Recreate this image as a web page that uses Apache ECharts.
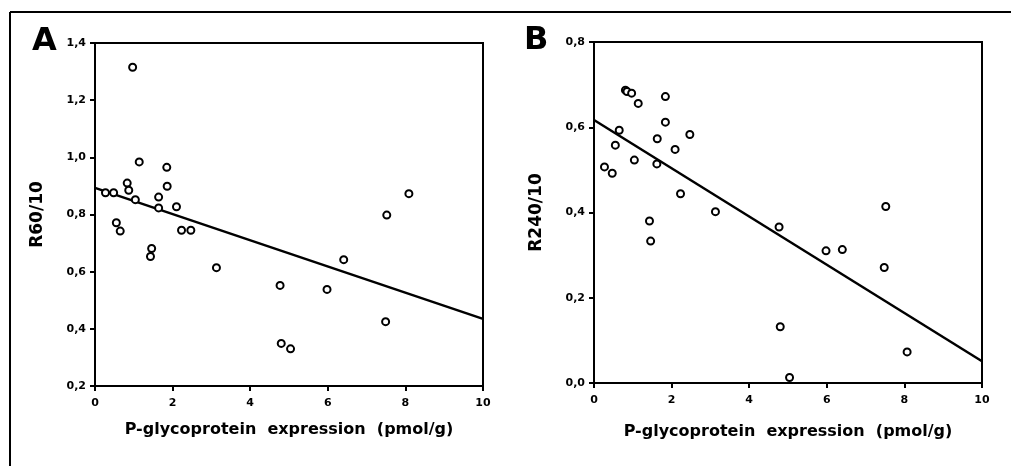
<!DOCTYPE html>
<html>
<head>
<meta charset="utf-8">
<script src="https://cdn.jsdelivr.net/npm/echarts@6/dist/echarts.min.js"></script>
<style>
html,body{margin:0;padding:0;background:#fff;}
#c{width:1011px;height:466px;}
</style>
</head>
<body>
<div id="c"></div>
<script>
// P-glycoprotein expression (pmol/g), panel A
const pgpX = [0.27,0.48,0.55,0.65,0.83,0.87,0.97,1.04,1.14,1.46,1.43,1.64,1.64,1.85,1.86,2.10,2.23,2.47,3.13,4.77,4.80,5.04,5.98,6.41,7.52,7.49,8.09];
// Panel A: R60/10
const r60 = [0.876,0.876,0.771,0.742,0.910,0.885,1.315,0.852,0.984,0.681,0.653,0.861,0.823,0.965,0.899,0.827,0.745,0.745,0.614,0.552,0.349,0.330,0.538,0.642,0.798,0.425,0.873];
// P-glycoprotein expression (pmol/g), panel B
const pgpXB = [0.27,0.47,0.55,0.65,0.81,0.85,0.97,1.04,1.14,1.43,1.46,1.63,1.62,1.84,1.84,2.09,2.23,2.47,3.13,4.77,4.80,5.04,5.98,6.40,7.52,7.48,8.07];
// Panel B: R240/10
const r240 = [0.507,0.492,0.558,0.593,0.687,0.684,0.680,0.523,0.656,0.380,0.333,0.573,0.514,0.672,0.612,0.548,0.444,0.583,0.402,0.366,0.132,0.013,0.310,0.313,0.414,0.271,0.073];
// Regression line end points
const lineAx = [0, 10], lineAy = [0.893, 0.435];
const lineBx = [0, 10], lineBy = [0.617, 0.051];
const xTitle = 'P-glycoprotein  expression  (pmol/g)';
const yTitleA = 'R60/10', yTitleB = 'R240/10';

const FONT = '"DejaVu Sans", "Liberation Sans", Arial, sans-serif';
const fmt = v => v.toFixed(1).replace('.', ',');
const zip = (a, b) => a.map((v, i) => [v, b[i]]);

function xAxis(gi, gap) {
  return {
    type: 'value', gridIndex: gi, min: 0, max: 10, interval: 2,
    name: xTitle, nameLocation: 'middle', nameGap: gap,
    nameTextStyle: {fontFamily: FONT, fontWeight: 'bold', fontSize: 16, color: '#000'},
    axisLine: {show: true, onZero: false, lineStyle: {color: '#000', width: 2}},
    axisTick: {show: true, inside: false, length: 5, lineStyle: {color: '#000', width: 2}},
    axisLabel: {color: '#000', fontFamily: FONT, fontWeight: 'bold', fontSize: 11, margin: 12},
    splitLine: {show: false}
  };
}
function yAxis(gi, min, max, name) {
  return {
    type: 'value', gridIndex: gi, min: min, max: max, interval: 0.2,
    name: name, nameLocation: 'middle', nameGap: 49, nameRotate: 90,
    nameTextStyle: {fontFamily: FONT, fontWeight: 'bold', fontSize: 17, color: '#000'},
    axisLine: {show: true, onZero: false, lineStyle: {color: '#000', width: 2}},
    axisTick: {show: true, inside: false, length: 5, lineStyle: {color: '#000', width: 2}},
    axisLabel: {color: '#000', fontFamily: FONT, fontWeight: 'bold', fontSize: 11, margin: 9, formatter: fmt},
    splitLine: {show: false}
  };
}
const scatterStyle = {
  type: 'scatter', symbol: 'circle', symbolSize: 7,
  itemStyle: {color: '#fff', borderColor: '#000', borderWidth: 2, opacity: 1}
};
const lineStyle = {
  type: 'line', symbol: 'none', lineStyle: {color: '#000', width: 2.5}, z: 1, silent: true
};

const chart = echarts.init(document.getElementById('c'), null, {renderer: 'canvas'});
chart.setOption({
  backgroundColor: '#fff',
  animation: false,
  grid: [
    {left: 95, top: 43, width: 388, height: 343, show: true, borderColor: '#000', borderWidth: 2, backgroundColor: 'transparent'},
    {left: 594, top: 42, width: 388, height: 341, show: true, borderColor: '#000', borderWidth: 2, backgroundColor: 'transparent'}
  ],
  xAxis: [xAxis(0, 36), xAxis(1, 41)],
  yAxis: [yAxis(0, 0.2, 1.4, yTitleA), yAxis(1, 0, 0.8, yTitleB)],
  series: [
    Object.assign({}, lineStyle, {xAxisIndex: 0, yAxisIndex: 0, data: zip(lineAx, lineAy)}),
    Object.assign({}, scatterStyle, {xAxisIndex: 0, yAxisIndex: 0, data: zip(pgpX, r60), z: 3}),
    Object.assign({}, lineStyle, {xAxisIndex: 1, yAxisIndex: 1, data: zip(lineBx, lineBy)}),
    Object.assign({}, scatterStyle, {xAxisIndex: 1, yAxisIndex: 1, data: zip(pgpXB, r240), z: 3})
  ],
  graphic: [
    {type: 'line', shape: {x1: 10, y1: 12, x2: 1011, y2: 12}, style: {stroke: '#000', lineWidth: 2}},
    {type: 'line', shape: {x1: 10, y1: 12, x2: 10, y2: 466}, style: {stroke: '#000', lineWidth: 2}},
    {type: 'text', left: 32, top: 26, style: {text: 'A', font: 'bold 32px ' + FONT, fill: '#000'}},
    {type: 'text', left: 524, top: 25, style: {text: 'B', font: 'bold 32px ' + FONT, fill: '#000'}}
  ]
});
</script>
</body>
</html>
